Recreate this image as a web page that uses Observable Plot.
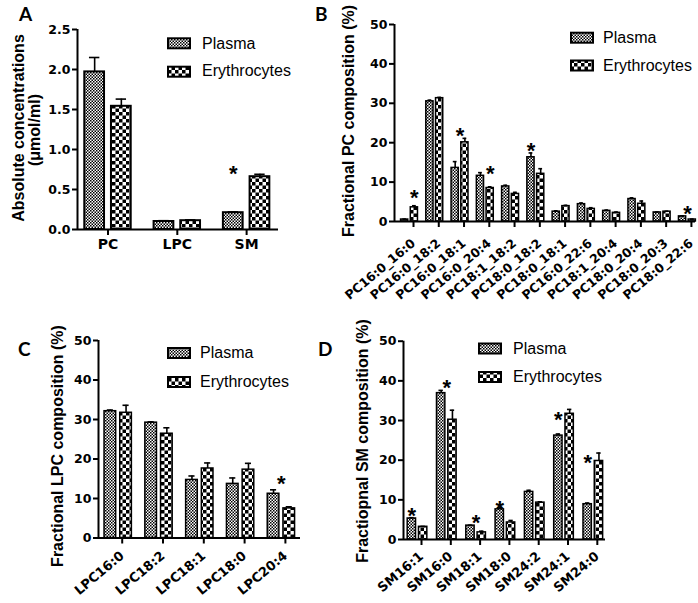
<!DOCTYPE html>
<html><head><meta charset="utf-8">
<script src="https://cdn.jsdelivr.net/npm/d3@7"></script>
<script src="https://cdn.jsdelivr.net/npm/@observablehq/plot@0.6"></script>
<style>
body{margin:0;background:#fff;}
#root{position:relative;width:698px;height:603px;background:#fff;overflow:hidden;font-family:"Liberation Sans",Arial,sans-serif;color:#000;}
#root svg{position:absolute;}
</style></head><body><div id="root"></div>
<script>
const seriesNames = ["Plasma", "Erythrocytes"];

// Panel A
const aCategories = ["PC", "LPC", "SM"];
const aPlasma = [1.97, 0.10, 0.21];
const aPlasmaErr = [2.15, 0.11, 0.22];
const aEry = [1.54, 0.11, 0.66];
const aEryErr = [1.63, 0.12, 0.69];
const aStarCategory = ["SM"];
const aStarSeries = ["Plasma"];
const aStarValue = [0.76];
const aYTicks = [0, 0.5, 1.0, 1.5, 2.0, 2.5];

// Panel B
const bCategories = ["PC16:0_16:0", "PC16:0_18:2", "PC16:0_18:1", "PC16:0_20:4", "PC18:1_18:2", "PC18:0_18:2",
  "PC18:0_18:1", "PC16:0_22:6", "PC18:1_20:4", "PC18:0_20:4", "PC18:0_20:3", "PC18:0_22:6"];
const bPlasma = [0.5, 30.5, 13.6, 11.6, 8.9, 16.3, 2.5, 4.4, 2.7, 5.7, 2.3, 1.3];
const bPlasmaErr = [0.6, 30.8, 15.2, 12.4, 9.2, 17.4, 2.7, 4.7, 2.9, 6.0, 2.4, 1.4];
const bEry = [3.6, 31.3, 20.1, 8.5, 7.0, 12.1, 3.9, 3.2, 2.2, 4.5, 2.5, 0.5];
const bEryErr = [4.0, 31.5, 21.1, 8.8, 7.4, 13.4, 4.1, 3.5, 2.4, 5.2, 2.6, 0.6];
const bStarCategory = ["PC16:0_16:0", "PC16:0_18:1", "PC16:0_20:4", "PC18:0_18:2", "PC18:0_22:6"];
const bStarSeries = ["Erythrocytes", "both", "Erythrocytes", "Plasma", "both"];
const bStarValue = [7.2, 23.0, 13.3, 19.2, 3.2];
const bYTicks = [0, 10, 20, 30, 40, 50];

// Panel C
const cCategories = ["LPC16:0", "LPC18:2", "LPC18:1", "LPC18:0", "LPC20:4"];
const cPlasma = [32.1, 29.2, 14.7, 13.7, 11.2];
const cPlasmaErr = [32.4, 29.4, 15.7, 15.2, 12.2];
const cEry = [31.7, 26.4, 17.6, 17.3, 7.5];
const cEryErr = [33.6, 27.9, 19.0, 18.9, 7.9];
const cStarCategory = ["LPC20:4"];
const cStarSeries = ["both"];
const cStarValue = [15.0];
const cYTicks = [0, 10, 20, 30, 40, 50];

// Panel D
const dCategories = ["SM16:1", "SM16:0", "SM18:1", "SM18:0", "SM24:2", "SM24:1", "SM24:0"];
const dPlasma = [5.3, 36.9, 3.5, 7.6, 12.0, 26.2, 8.9];
const dPlasmaErr = [5.5, 37.6, 3.6, 8.0, 12.4, 26.6, 9.2];
const dEry = [3.2, 30.2, 1.8, 4.3, 9.3, 31.7, 19.8];
const dEryErr = [3.3, 32.6, 2.1, 4.8, 9.5, 32.8, 21.8];
const dStarCategory = ["SM16:1", "SM16:0", "SM18:1", "SM18:0", "SM24:1", "SM24:0"];
const dStarSeries = ["Plasma", "both", "both", "Plasma", "Plasma", "Plasma"];
const dStarValue = [7.3, 39.4, 5.5, 9.0, 31.4, 20.6];
const dYTicks = [0, 10, 20, 30, 40, 50];

const root = d3.select("#root");

// Overlay with pattern definitions (must exist for url(#...) references)
const overlay = root.append("svg")
  .attr("width", 698).attr("height", 603)
  .style("left", "0px").style("top", "0px").style("pointer-events", "none");
const defs = overlay.append("defs");
const pP = defs.append("pattern").attr("id", "patPlasma").attr("width", 3).attr("height", 3).attr("patternUnits", "userSpaceOnUse");
pP.append("rect").attr("width", 3).attr("height", 3).attr("fill", "#fff");
pP.append("rect").attr("width", 1.5).attr("height", 1.5).attr("fill", "#000");
pP.append("rect").attr("x", 1.5).attr("y", 1.5).attr("width", 1.5).attr("height", 1.5).attr("fill", "#000");
const pE = defs.append("pattern").attr("id", "patEry").attr("width", 7).attr("height", 7).attr("patternUnits", "userSpaceOnUse");
pE.append("rect").attr("width", 7).attr("height", 7).attr("fill", "#fff");
pE.append("rect").attr("width", 3.5).attr("height", 3.5).attr("fill", "#000");
pE.append("rect").attr("x", 3.5).attr("y", 3.5).attr("width", 3.5).attr("height", 3.5).attr("fill", "#000");

const INNER = 0.05, OUTER = 0.335, CAP = 0.075;
const sideOffset = s => s === "Plasma" ? -(INNER + OUTER) / 2 : s === "Erythrocytes" ? (INNER + OUTER) / 2 : 0;

function panel(cfg) {
  const n = cfg.categories.length;
  const rows = cfg.categories.flatMap((c, i) => [
    {i, series: seriesNames[0], v: cfg.plasma[i], e: cfg.plasmaErr[i]},
    {i, series: seriesNames[1], v: cfg.ery[i], e: cfg.eryErr[i]}
  ]);
  const stars = cfg.starCategory.map((c, k) => ({i: cfg.categories.indexOf(c), side: cfg.starSeries[k], y: cfg.starValue[k]}));
  const ctr = d => d.i + sideOffset(d.series);
  const svg = Plot.plot({
    width: cfg.width, height: cfg.height,
    marginLeft: cfg.ml, marginRight: cfg.mr, marginTop: cfg.mt, marginBottom: cfg.mb,
    x: {type: "linear", domain: cfg.xDomain, axis: null},
    y: {domain: [cfg.yTicks[0], cfg.yTicks[cfg.yTicks.length - 1]], axis: null},
    style: {background: "none", overflow: "visible", color: "#000", fontFamily: "Liberation Sans"},
    marks: [
      Plot.rectY(rows.filter(d => d.series === "Plasma"), {x1: d => d.i - OUTER, x2: d => d.i - INNER, y1: 0, y2: "v", fill: "url(#patPlasma)", stroke: "#000", strokeWidth: cfg.barStroke}),
      Plot.rectY(rows.filter(d => d.series === "Erythrocytes"), {x1: d => d.i + INNER, x2: d => d.i + OUTER, y1: 0, y2: "v", fill: "url(#patEry)", stroke: "#000", strokeWidth: cfg.barStroke}),
      Plot.ruleX(rows, {x: ctr, y1: "v", y2: "e", stroke: "#000", strokeWidth: 1.6}),
      Plot.ruleY(rows, {y: "e", x1: d => ctr(d) - CAP, x2: d => ctr(d) + CAP, stroke: "#000", strokeWidth: 1.6}),
      Plot.ruleY([cfg.yTicks[0]], {stroke: "#000", strokeWidth: 2}),
      Plot.ruleX([cfg.xDomain[0]], {stroke: "#000", strokeWidth: 2}),
      Plot.axisY({ticks: cfg.yTicks, tickFormat: cfg.yFormat, tickSize: 5, tickPadding: 2, strokeWidth: 2,
        fontFamily: "DejaVu Sans", fontWeight: "bold", fontSize: 12.5, label: null}),
      Plot.axisX({ticks: d3.range(n), tickFormat: i => cfg.categories[i], tickSize: 6, tickPadding: cfg.xPad, strokeWidth: 2,
        tickRotate: cfg.rotate, fontFamily: "DejaVu Sans", fontWeight: "bold", fontSize: cfg.xFont, label: null,
        dx: cfg.xdx || 0}),
      Plot.text(stars, {x: d => d.i + sideOffset(d.side), y: "y", text: () => "*", fontSize: 22, fontWeight: "bold", fontFamily: "Liberation Sans", dy: 5})
    ]
  });
  svg.style.left = cfg.left + "px";
  svg.style.top = cfg.top + "px";
  root.node().insertBefore(svg, overlay.node());
}

panel({left: 0, top: 0, width: 345, height: 300, ml: 77, mr: 67, mt: 29, mb: 71,
  xDomain: [-0.44, 2.46], categories: aCategories, plasma: aPlasma, plasmaErr: aPlasmaErr, ery: aEry, eryErr: aEryErr,
  starCategory: aStarCategory, starSeries: aStarSeries, starValue: aStarValue, yTicks: aYTicks, yFormat: d3.format(".1f"),
  rotate: 0, xFont: 14, xPad: 4, barStroke: 2});

panel({left: 340, top: 0, width: 358, height: 300, ml: 54, mr: 3, mt: 24, mb: 79,
  xDomain: [-0.594, 11.32], categories: bCategories, plasma: bPlasma, plasmaErr: bPlasmaErr, ery: bEry, eryErr: bEryErr,
  starCategory: bStarCategory, starSeries: bStarSeries, starValue: bStarValue, yTicks: bYTicks, yFormat: d3.format("d"),
  rotate: -40, xFont: 12.5, xPad: 14, xdx: 4, barStroke: 1.5});

panel({left: 0, top: 300, width: 340, height: 303, ml: 98, mr: 40, mt: 40, mb: 65.5,
  xDomain: [-0.483, 4.468], categories: cCategories, plasma: cPlasma, plasmaErr: cPlasmaErr, ery: cEry, eryErr: cEryErr,
  starCategory: cStarCategory, starSeries: cStarSeries, starValue: cStarValue, yTicks: cYTicks, yFormat: d3.format("d"),
  rotate: -40, xFont: 13, xPad: 10, xdx: 4, barStroke: 1.5});

panel({left: 340, top: 300, width: 358, height: 303, ml: 63, mr: 93, mt: 40.7, mb: 64,
  xDomain: [-0.478, 6.416], categories: dCategories, plasma: dPlasma, plasmaErr: dPlasmaErr, ery: dEry, eryErr: dEryErr,
  starCategory: dStarCategory, starSeries: dStarSeries, starValue: dStarValue, yTicks: dYTicks, yFormat: d3.format("d"),
  rotate: -40, xFont: 13, xPad: 9, xdx: 4, barStroke: 1.5});

// Panel letters
const letters = [["A", 19, 21], ["B", 315, 21], ["C", 18, 356], ["D", 318, 356]];
overlay.selectAll("text.letter").data(letters).join("text").attr("class", "letter")
  .attr("x", d => d[1]).attr("y", d => d[2]).text(d => d[0])
  .attr("font-family", "Lato, 'Open Sans', sans-serif").attr("font-weight", "bold").attr("font-size", 19);

// Y axis titles
const titles = [
  ["Absolute concentrations", 24, 128],
  ["(μmol/ml)", 40, 130],
  ["Fractional PC composition (%)", 354, 121],
  ["Fractional LPC composition (%)", 63, 446],
  ["Fractiopnal SM composition (%)", 368, 441]
];
overlay.selectAll("text.ytitle").data(titles).join("text").attr("class", "ytitle")
  .attr("transform", d => `translate(${d[1]},${d[2]}) rotate(-90)`)
  .attr("text-anchor", "middle").text(d => d[0])
  .attr("font-family", "'Liberation Sans', Arial, sans-serif").attr("font-weight", "bold").attr("font-size", 16);

// Legends
const legends = [
  {x: 167, y1: 37.3, y2: 65.7, tx: 202, b1: 48.7, b2: 76},
  {x: 570, y1: 31.7, y2: 59.5, tx: 603, b1: 42.7, b2: 71},
  {x: 167, y1: 347, y2: 376, tx: 200, b1: 358, b2: 387},
  {x: 478, y1: 342.5, y2: 371, tx: 513, b1: 354, b2: 382}
];
legends.forEach(L => {
  const g = overlay.append("g");
  [[L.y1, "url(#patPlasma)", seriesNames[0], L.b1], [L.y2, "url(#patEry)", seriesNames[1], L.b2]].forEach(([y, f, name, b]) => {
    g.append("rect").attr("x", L.x + 1).attr("y", y + 1).attr("width", 22).attr("height", 10)
      .attr("fill", f).attr("stroke", "#000").attr("stroke-width", 2);
    g.append("text").attr("x", L.tx).attr("y", b).text(name)
      .attr("font-family", "'Liberation Sans', Arial, sans-serif").attr("font-size", 16);
  });
});
</script></body></html>
